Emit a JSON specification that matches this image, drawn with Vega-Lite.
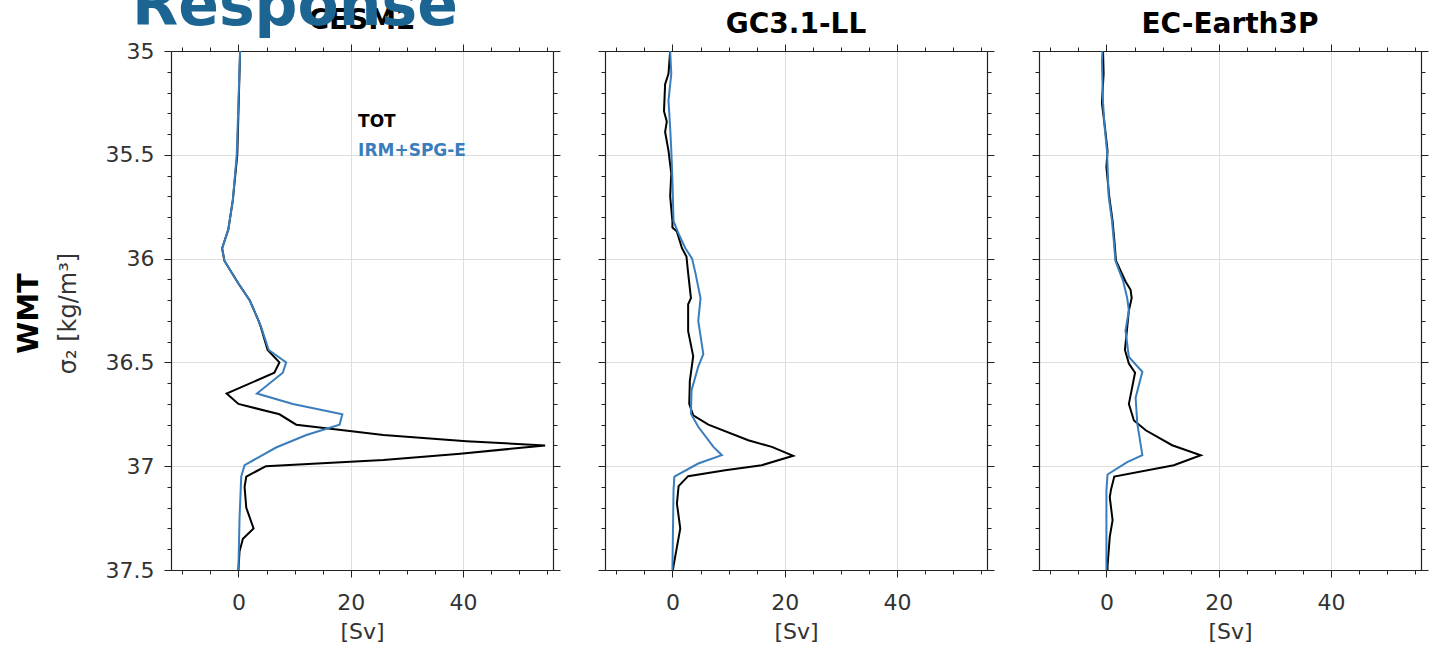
{
  "$schema": "https://vega.github.io/schema/vega-lite/v6.json",
  "autosize": {"type": "pad"},
  "padding": {"left": 14, "top": -23, "right": 0, "bottom": 0},
  "background": "white",
  "title": {"text": "Response", "anchor": "start", "frame": "group", "font": "DejaVu Sans", "fontSize": 60, "fontWeight": "bold", "color": "#1c6593", "baseline": "alphabetic", "offset": -61, "dx": -39, "dy": 17},
  "spacing": 52,
  "bounds": "flush",
  "datasets": {
    "wmt": [
      {"model": "CESM2", "series": "TOT", "sigma": 35.0, "v": 0.3},
      {"model": "CESM2", "series": "TOT", "sigma": 35.5, "v": -0.2},
      {"model": "CESM2", "series": "TOT", "sigma": 35.72, "v": -1.0},
      {"model": "CESM2", "series": "TOT", "sigma": 35.86, "v": -1.8},
      {"model": "CESM2", "series": "TOT", "sigma": 35.95, "v": -2.9},
      {"model": "CESM2", "series": "TOT", "sigma": 36.01, "v": -2.5},
      {"model": "CESM2", "series": "TOT", "sigma": 36.12, "v": 0.0},
      {"model": "CESM2", "series": "TOT", "sigma": 36.2, "v": 2.0},
      {"model": "CESM2", "series": "TOT", "sigma": 36.3, "v": 3.6},
      {"model": "CESM2", "series": "TOT", "sigma": 36.33, "v": 4.0},
      {"model": "CESM2", "series": "TOT", "sigma": 36.44, "v": 5.2},
      {"model": "CESM2", "series": "TOT", "sigma": 36.5, "v": 7.3},
      {"model": "CESM2", "series": "TOT", "sigma": 36.55, "v": 6.4},
      {"model": "CESM2", "series": "TOT", "sigma": 36.65, "v": -2.1},
      {"model": "CESM2", "series": "TOT", "sigma": 36.7, "v": 0.0},
      {"model": "CESM2", "series": "TOT", "sigma": 36.75, "v": 7.3},
      {"model": "CESM2", "series": "TOT", "sigma": 36.8, "v": 10.3},
      {"model": "CESM2", "series": "TOT", "sigma": 36.83, "v": 19.8},
      {"model": "CESM2", "series": "TOT", "sigma": 36.85, "v": 25.8},
      {"model": "CESM2", "series": "TOT", "sigma": 36.88, "v": 40.6},
      {"model": "CESM2", "series": "TOT", "sigma": 36.9, "v": 54.6},
      {"model": "CESM2", "series": "TOT", "sigma": 36.94, "v": 39.5},
      {"model": "CESM2", "series": "TOT", "sigma": 36.97, "v": 25.8},
      {"model": "CESM2", "series": "TOT", "sigma": 37.0, "v": 4.9},
      {"model": "CESM2", "series": "TOT", "sigma": 37.05, "v": 1.4},
      {"model": "CESM2", "series": "TOT", "sigma": 37.1, "v": 1.1},
      {"model": "CESM2", "series": "TOT", "sigma": 37.2, "v": 1.4},
      {"model": "CESM2", "series": "TOT", "sigma": 37.3, "v": 2.7},
      {"model": "CESM2", "series": "TOT", "sigma": 37.35, "v": 0.8},
      {"model": "CESM2", "series": "TOT", "sigma": 37.41, "v": 0.2},
      {"model": "CESM2", "series": "TOT", "sigma": 37.5, "v": 0.0},
      {"model": "CESM2", "series": "IRM", "sigma": 35.0, "v": 0.3},
      {"model": "CESM2", "series": "IRM", "sigma": 35.5, "v": -0.3},
      {"model": "CESM2", "series": "IRM", "sigma": 35.72, "v": -1.0},
      {"model": "CESM2", "series": "IRM", "sigma": 35.86, "v": -1.8},
      {"model": "CESM2", "series": "IRM", "sigma": 35.95, "v": -2.9},
      {"model": "CESM2", "series": "IRM", "sigma": 36.01, "v": -2.5},
      {"model": "CESM2", "series": "IRM", "sigma": 36.12, "v": 0.0},
      {"model": "CESM2", "series": "IRM", "sigma": 36.2, "v": 2.0},
      {"model": "CESM2", "series": "IRM", "sigma": 36.3, "v": 3.6},
      {"model": "CESM2", "series": "IRM", "sigma": 36.33, "v": 4.05},
      {"model": "CESM2", "series": "IRM", "sigma": 36.44, "v": 5.4},
      {"model": "CESM2", "series": "IRM", "sigma": 36.5, "v": 8.5},
      {"model": "CESM2", "series": "IRM", "sigma": 36.55, "v": 7.9},
      {"model": "CESM2", "series": "IRM", "sigma": 36.65, "v": 3.3},
      {"model": "CESM2", "series": "IRM", "sigma": 36.7, "v": 9.7},
      {"model": "CESM2", "series": "IRM", "sigma": 36.75, "v": 18.5},
      {"model": "CESM2", "series": "IRM", "sigma": 36.8, "v": 18.0},
      {"model": "CESM2", "series": "IRM", "sigma": 36.85, "v": 12.1},
      {"model": "CESM2", "series": "IRM", "sigma": 36.91, "v": 6.7},
      {"model": "CESM2", "series": "IRM", "sigma": 36.995, "v": 1.1},
      {"model": "CESM2", "series": "IRM", "sigma": 37.05, "v": 0.5},
      {"model": "CESM2", "series": "IRM", "sigma": 37.25, "v": 0.2},
      {"model": "CESM2", "series": "IRM", "sigma": 37.5, "v": 0.0},
      {"model": "GC3.1-LL", "series": "TOT", "sigma": 35.0, "v": -0.4},
      {"model": "GC3.1-LL", "series": "TOT", "sigma": 35.11, "v": -0.7},
      {"model": "GC3.1-LL", "series": "TOT", "sigma": 35.16, "v": -1.3},
      {"model": "GC3.1-LL", "series": "TOT", "sigma": 35.29, "v": -1.5},
      {"model": "GC3.1-LL", "series": "TOT", "sigma": 35.34, "v": -1.0},
      {"model": "GC3.1-LL", "series": "TOT", "sigma": 35.39, "v": -1.3},
      {"model": "GC3.1-LL", "series": "TOT", "sigma": 35.48, "v": -0.7},
      {"model": "GC3.1-LL", "series": "TOT", "sigma": 35.59, "v": -0.2},
      {"model": "GC3.1-LL", "series": "TOT", "sigma": 35.7, "v": -0.4},
      {"model": "GC3.1-LL", "series": "TOT", "sigma": 35.82, "v": 0.0},
      {"model": "GC3.1-LL", "series": "TOT", "sigma": 35.85, "v": 0.0},
      {"model": "GC3.1-LL", "series": "TOT", "sigma": 35.87, "v": 0.8},
      {"model": "GC3.1-LL", "series": "TOT", "sigma": 35.95, "v": 1.7},
      {"model": "GC3.1-LL", "series": "TOT", "sigma": 35.99, "v": 2.5},
      {"model": "GC3.1-LL", "series": "TOT", "sigma": 36.07, "v": 2.8},
      {"model": "GC3.1-LL", "series": "TOT", "sigma": 36.19, "v": 3.3},
      {"model": "GC3.1-LL", "series": "TOT", "sigma": 36.22, "v": 2.8},
      {"model": "GC3.1-LL", "series": "TOT", "sigma": 36.35, "v": 2.8},
      {"model": "GC3.1-LL", "series": "TOT", "sigma": 36.47, "v": 3.7},
      {"model": "GC3.1-LL", "series": "TOT", "sigma": 36.59, "v": 3.1},
      {"model": "GC3.1-LL", "series": "TOT", "sigma": 36.7, "v": 3.0},
      {"model": "GC3.1-LL", "series": "TOT", "sigma": 36.755, "v": 3.7},
      {"model": "GC3.1-LL", "series": "TOT", "sigma": 36.8, "v": 6.4},
      {"model": "GC3.1-LL", "series": "TOT", "sigma": 36.875, "v": 13.5},
      {"model": "GC3.1-LL", "series": "TOT", "sigma": 36.907, "v": 17.7},
      {"model": "GC3.1-LL", "series": "TOT", "sigma": 36.95, "v": 21.5},
      {"model": "GC3.1-LL", "series": "TOT", "sigma": 36.995, "v": 15.9},
      {"model": "GC3.1-LL", "series": "TOT", "sigma": 37.02, "v": 9.4},
      {"model": "GC3.1-LL", "series": "TOT", "sigma": 37.048, "v": 2.8},
      {"model": "GC3.1-LL", "series": "TOT", "sigma": 37.096, "v": 1.1},
      {"model": "GC3.1-LL", "series": "TOT", "sigma": 37.18, "v": 0.8},
      {"model": "GC3.1-LL", "series": "TOT", "sigma": 37.3, "v": 1.4},
      {"model": "GC3.1-LL", "series": "TOT", "sigma": 37.39, "v": 0.8},
      {"model": "GC3.1-LL", "series": "TOT", "sigma": 37.48, "v": 0.2},
      {"model": "GC3.1-LL", "series": "TOT", "sigma": 37.5, "v": 0.1},
      {"model": "GC3.1-LL", "series": "IRM", "sigma": 35.0, "v": -0.4},
      {"model": "GC3.1-LL", "series": "IRM", "sigma": 35.11, "v": -0.2},
      {"model": "GC3.1-LL", "series": "IRM", "sigma": 35.24, "v": -0.7},
      {"model": "GC3.1-LL", "series": "IRM", "sigma": 35.37, "v": -0.4},
      {"model": "GC3.1-LL", "series": "IRM", "sigma": 35.48, "v": -0.2},
      {"model": "GC3.1-LL", "series": "IRM", "sigma": 35.62, "v": 0.0},
      {"model": "GC3.1-LL", "series": "IRM", "sigma": 35.82, "v": 0.2},
      {"model": "GC3.1-LL", "series": "IRM", "sigma": 35.88, "v": 1.1},
      {"model": "GC3.1-LL", "series": "IRM", "sigma": 35.95, "v": 2.3},
      {"model": "GC3.1-LL", "series": "IRM", "sigma": 36.0, "v": 3.5},
      {"model": "GC3.1-LL", "series": "IRM", "sigma": 36.07, "v": 4.1},
      {"model": "GC3.1-LL", "series": "IRM", "sigma": 36.19, "v": 5.0},
      {"model": "GC3.1-LL", "series": "IRM", "sigma": 36.22, "v": 4.9},
      {"model": "GC3.1-LL", "series": "IRM", "sigma": 36.3, "v": 4.6},
      {"model": "GC3.1-LL", "series": "IRM", "sigma": 36.46, "v": 5.5},
      {"model": "GC3.1-LL", "series": "IRM", "sigma": 36.52, "v": 4.6},
      {"model": "GC3.1-LL", "series": "IRM", "sigma": 36.635, "v": 3.4},
      {"model": "GC3.1-LL", "series": "IRM", "sigma": 36.747, "v": 3.3},
      {"model": "GC3.1-LL", "series": "IRM", "sigma": 36.81, "v": 4.6},
      {"model": "GC3.1-LL", "series": "IRM", "sigma": 36.907, "v": 7.3},
      {"model": "GC3.1-LL", "series": "IRM", "sigma": 36.947, "v": 8.8},
      {"model": "GC3.1-LL", "series": "IRM", "sigma": 36.987, "v": 4.6},
      {"model": "GC3.1-LL", "series": "IRM", "sigma": 37.05, "v": 0.35},
      {"model": "GC3.1-LL", "series": "IRM", "sigma": 37.115, "v": 0.2},
      {"model": "GC3.1-LL", "series": "IRM", "sigma": 37.5, "v": 0.0},
      {"model": "EC-Earth3P", "series": "TOT", "sigma": 35.0, "v": -0.6},
      {"model": "EC-Earth3P", "series": "TOT", "sigma": 35.11, "v": -0.5},
      {"model": "EC-Earth3P", "series": "TOT", "sigma": 35.25, "v": -0.8},
      {"model": "EC-Earth3P", "series": "TOT", "sigma": 35.37, "v": -0.25},
      {"model": "EC-Earth3P", "series": "TOT", "sigma": 35.48, "v": 0.2},
      {"model": "EC-Earth3P", "series": "TOT", "sigma": 35.56, "v": 0.0},
      {"model": "EC-Earth3P", "series": "TOT", "sigma": 35.7, "v": 0.5},
      {"model": "EC-Earth3P", "series": "TOT", "sigma": 35.82, "v": 1.1},
      {"model": "EC-Earth3P", "series": "TOT", "sigma": 35.91, "v": 1.4},
      {"model": "EC-Earth3P", "series": "TOT", "sigma": 36.01, "v": 1.7},
      {"model": "EC-Earth3P", "series": "TOT", "sigma": 36.11, "v": 3.4},
      {"model": "EC-Earth3P", "series": "TOT", "sigma": 36.15, "v": 4.3},
      {"model": "EC-Earth3P", "series": "TOT", "sigma": 36.19, "v": 4.5},
      {"model": "EC-Earth3P", "series": "TOT", "sigma": 36.25, "v": 4.0},
      {"model": "EC-Earth3P", "series": "TOT", "sigma": 36.44, "v": 3.3},
      {"model": "EC-Earth3P", "series": "TOT", "sigma": 36.506, "v": 4.0},
      {"model": "EC-Earth3P", "series": "TOT", "sigma": 36.55, "v": 5.1},
      {"model": "EC-Earth3P", "series": "TOT", "sigma": 36.7, "v": 4.0},
      {"model": "EC-Earth3P", "series": "TOT", "sigma": 36.78, "v": 4.9},
      {"model": "EC-Earth3P", "series": "TOT", "sigma": 36.827, "v": 7.0},
      {"model": "EC-Earth3P", "series": "TOT", "sigma": 36.899, "v": 11.7},
      {"model": "EC-Earth3P", "series": "TOT", "sigma": 36.947, "v": 16.8},
      {"model": "EC-Earth3P", "series": "TOT", "sigma": 36.995, "v": 12.0},
      {"model": "EC-Earth3P", "series": "TOT", "sigma": 37.05, "v": 1.4},
      {"model": "EC-Earth3P", "series": "TOT", "sigma": 37.115, "v": 0.8},
      {"model": "EC-Earth3P", "series": "TOT", "sigma": 37.15, "v": 0.6},
      {"model": "EC-Earth3P", "series": "TOT", "sigma": 37.26, "v": 1.1},
      {"model": "EC-Earth3P", "series": "TOT", "sigma": 37.34, "v": 0.6},
      {"model": "EC-Earth3P", "series": "TOT", "sigma": 37.48, "v": 0.2},
      {"model": "EC-Earth3P", "series": "TOT", "sigma": 37.5, "v": 0.2},
      {"model": "EC-Earth3P", "series": "IRM", "sigma": 35.0, "v": -0.7},
      {"model": "EC-Earth3P", "series": "IRM", "sigma": 35.05, "v": -0.8},
      {"model": "EC-Earth3P", "series": "IRM", "sigma": 35.25, "v": -0.6},
      {"model": "EC-Earth3P", "series": "IRM", "sigma": 35.37, "v": -0.3},
      {"model": "EC-Earth3P", "series": "IRM", "sigma": 35.48, "v": 0.1},
      {"model": "EC-Earth3P", "series": "IRM", "sigma": 35.7, "v": 0.4},
      {"model": "EC-Earth3P", "series": "IRM", "sigma": 35.82, "v": 1.0},
      {"model": "EC-Earth3P", "series": "IRM", "sigma": 35.91, "v": 1.3},
      {"model": "EC-Earth3P", "series": "IRM", "sigma": 36.01, "v": 1.6},
      {"model": "EC-Earth3P", "series": "IRM", "sigma": 36.11, "v": 3.0},
      {"model": "EC-Earth3P", "series": "IRM", "sigma": 36.19, "v": 3.7},
      {"model": "EC-Earth3P", "series": "IRM", "sigma": 36.25, "v": 4.0},
      {"model": "EC-Earth3P", "series": "IRM", "sigma": 36.346, "v": 3.4},
      {"model": "EC-Earth3P", "series": "IRM", "sigma": 36.474, "v": 4.0},
      {"model": "EC-Earth3P", "series": "IRM", "sigma": 36.545, "v": 6.4},
      {"model": "EC-Earth3P", "series": "IRM", "sigma": 36.67, "v": 5.2},
      {"model": "EC-Earth3P", "series": "IRM", "sigma": 36.795, "v": 5.5},
      {"model": "EC-Earth3P", "series": "IRM", "sigma": 36.947, "v": 6.4},
      {"model": "EC-Earth3P", "series": "IRM", "sigma": 36.98, "v": 3.7},
      {"model": "EC-Earth3P", "series": "IRM", "sigma": 37.04, "v": 0.2},
      {"model": "EC-Earth3P", "series": "IRM", "sigma": 37.115, "v": 0.0},
      {"model": "EC-Earth3P", "series": "IRM", "sigma": 37.5, "v": 0.0}
    ]
  },
  "hconcat": [
    {
      "width": 382, "height": 519,
      "title": {"text": "CESM2", "font": "DejaVu Sans", "fontSize": 28, "fontWeight": "bold", "color": "#000", "offset": 5},
      "layer": [
        {"mark": {"type": "rule", "color": "#444", "strokeWidth": 1.2},
         "encoding": {"x": {"datum": 0, "type": "quantitative", "scale": {"domain": [-12, 56], "nice": false, "zero": false}, "axis": null}}},
        {"data": {"name": "wmt"},
         "transform": [{"filter": "datum.model === 'CESM2' && datum.series === 'TOT'"}],
         "mark": {"type": "line", "color": "#000", "strokeWidth": 2},
         "encoding": {
           "x": {"field": "v", "type": "quantitative", "scale": {"domain": [-12, 56], "nice": false, "zero": false},
             "axis": {"orient": "bottom", "values": [-10,-5,0,5,10,15,20,25,30,35,40,45,50,55], "labelExpr": "datum.value % 20 === 0 ? format(datum.value, 'd') : ''", "labelPadding": 15, "tickSize": {"condition": {"test": "datum.value % 20 === 0", "value": 7}, "value": 4}, "grid": true, "gridOpacity": {"condition": {"test": "datum.value === 20 || datum.value === 40", "value": 1}, "value": 0}, "title": "[Sv]", "titlePadding": 8}},
           "y": {"field": "sigma", "type": "quantitative", "scale": {"domain": [35, 37.5], "reverse": true, "nice": false, "zero": false},
             "axis": {"orient": "left", "values": [35,35.1,35.2,35.3,35.4,35.5,35.6,35.7,35.8,35.9,36,36.1,36.2,36.3,36.4,36.5,36.6,36.7,36.8,36.9,37,37.1,37.2,37.3,37.4,37.5], "labelExpr": "abs(datum.value*2 - round(datum.value*2)) < 0.001 ? format(datum.value, '~g') : ''", "labelPadding": 10, "tickSize": {"condition": {"test": "abs(datum.value*2 - round(datum.value*2)) < 0.001", "value": 7}, "value": 4}, "grid": true, "gridOpacity": {"condition": {"test": "abs(datum.value*2 - round(datum.value*2)) < 0.001 && datum.value > 35.01 && datum.value < 37.49", "value": 1}, "value": 0}, "title": "σ₂ [kg/m³]", "titleFontSize": 24, "titleX": -103, "titleY": 262, "titleAngle": -90, "titleAlign": "center", "titleBaseline": "middle"}},
           "order": {"field": "sigma", "type": "quantitative"}
         }},
        {"data": {"name": "wmt"},
         "transform": [{"filter": "datum.model === 'CESM2' && datum.series === 'IRM'"}],
         "mark": {"type": "line", "color": "#3a7dbd", "strokeWidth": 2},
         "encoding": {
           "x": {"field": "v", "type": "quantitative",
             "axis": {"orient": "top", "values": [-10,-5,0,5,10,15,20,25,30,35,40,45,50,55], "labels": false, "grid": false, "title": null, "tickSize": {"condition": {"test": "datum.value % 20 === 0", "value": 7}, "value": 4}}},
           "y": {"field": "sigma", "type": "quantitative",
             "axis": {"orient": "right", "values": [35,35.1,35.2,35.3,35.4,35.5,35.6,35.7,35.8,35.9,36,36.1,36.2,36.3,36.4,36.5,36.6,36.7,36.8,36.9,37,37.1,37.2,37.3,37.4,37.5], "labels": false, "grid": false, "title": null, "tickSize": {"condition": {"test": "abs(datum.value*2 - round(datum.value*2)) < 0.001", "value": 7}, "value": 4}}},
           "order": {"field": "sigma", "type": "quantitative"}
         }},
        {"data": {"values": [{}]},
         "mark": {"type": "text", "text": "TOT", "font": "DejaVu Sans", "fontWeight": "bold", "fontSize": 17, "color": "#000", "align": "left", "baseline": "middle"},
         "encoding": {
           "x": {"datum": 21.3, "type": "quantitative", "axis": null},
           "y": {"datum": 35.34, "type": "quantitative",
             "axis": {"orient": "left", "domain": false, "ticks": false, "labels": false, "grid": false, "title": "WMT", "titleFont": "DejaVu Sans", "titleFontSize": 29, "titleFontWeight": "bold", "titleColor": "#000", "titleX": -143, "titleY": 262, "titleAngle": -90, "titleAlign": "center", "titleBaseline": "middle"}}
         }},
        {"data": {"values": [{}]},
         "mark": {"type": "text", "text": "IRM+SPG-E", "font": "DejaVu Sans", "fontWeight": "bold", "fontSize": 17, "color": "#3a7dbd", "align": "left", "baseline": "middle"},
         "encoding": {
           "x": {"datum": 21.3, "type": "quantitative", "axis": null},
           "y": {"datum": 35.48, "type": "quantitative", "axis": null}
         }}
      ],
      "resolve": {"axis": {"x": "independent", "y": "independent"}}
    },
    {
      "width": 382, "height": 519,
      "title": {"text": "GC3.1-LL", "font": "DejaVu Sans", "fontSize": 28, "fontWeight": "bold", "color": "#000", "offset": 5},
      "layer": [
        {"mark": {"type": "rule", "color": "#444", "strokeWidth": 1.2},
         "encoding": {"x": {"datum": 0, "type": "quantitative", "scale": {"domain": [-12, 56], "nice": false, "zero": false}, "axis": null}}},
        {"data": {"name": "wmt"},
         "transform": [{"filter": "datum.model === 'GC3.1-LL' && datum.series === 'TOT'"}],
         "mark": {"type": "line", "color": "#000", "strokeWidth": 2},
         "encoding": {
           "x": {"field": "v", "type": "quantitative", "scale": {"domain": [-12, 56], "nice": false, "zero": false},
             "axis": {"orient": "bottom", "values": [-10,-5,0,5,10,15,20,25,30,35,40,45,50,55], "labelExpr": "datum.value % 20 === 0 ? format(datum.value, 'd') : ''", "labelPadding": 15, "tickSize": {"condition": {"test": "datum.value % 20 === 0", "value": 7}, "value": 4}, "grid": true, "gridOpacity": {"condition": {"test": "datum.value === 20 || datum.value === 40", "value": 1}, "value": 0}, "title": "[Sv]", "titlePadding": 8}},
           "y": {"field": "sigma", "type": "quantitative", "scale": {"domain": [35, 37.5], "reverse": true, "nice": false, "zero": false},
             "axis": {"orient": "left", "values": [35,35.1,35.2,35.3,35.4,35.5,35.6,35.7,35.8,35.9,36,36.1,36.2,36.3,36.4,36.5,36.6,36.7,36.8,36.9,37,37.1,37.2,37.3,37.4,37.5], "labels": false, "title": null, "tickSize": {"condition": {"test": "abs(datum.value*2 - round(datum.value*2)) < 0.001", "value": 7}, "value": 4}, "grid": true, "gridOpacity": {"condition": {"test": "abs(datum.value*2 - round(datum.value*2)) < 0.001 && datum.value > 35.01 && datum.value < 37.49", "value": 1}, "value": 0}}},
           "order": {"field": "sigma", "type": "quantitative"}
         }},
        {"data": {"name": "wmt"},
         "transform": [{"filter": "datum.model === 'GC3.1-LL' && datum.series === 'IRM'"}],
         "mark": {"type": "line", "color": "#3a7dbd", "strokeWidth": 2},
         "encoding": {
           "x": {"field": "v", "type": "quantitative",
             "axis": {"orient": "top", "values": [-10,-5,0,5,10,15,20,25,30,35,40,45,50,55], "labels": false, "grid": false, "title": null, "tickSize": {"condition": {"test": "datum.value % 20 === 0", "value": 7}, "value": 4}}},
           "y": {"field": "sigma", "type": "quantitative",
             "axis": {"orient": "right", "values": [35,35.1,35.2,35.3,35.4,35.5,35.6,35.7,35.8,35.9,36,36.1,36.2,36.3,36.4,36.5,36.6,36.7,36.8,36.9,37,37.1,37.2,37.3,37.4,37.5], "labels": false, "grid": false, "title": null, "tickSize": {"condition": {"test": "abs(datum.value*2 - round(datum.value*2)) < 0.001", "value": 7}, "value": 4}}},
           "order": {"field": "sigma", "type": "quantitative"}
         }}
      ],
      "resolve": {"axis": {"x": "independent", "y": "independent"}}
    },
    {
      "width": 382, "height": 519,
      "title": {"text": "EC-Earth3P", "font": "DejaVu Sans", "fontSize": 28, "fontWeight": "bold", "color": "#000", "offset": 5},
      "layer": [
        {"mark": {"type": "rule", "color": "#444", "strokeWidth": 1.2},
         "encoding": {"x": {"datum": 0, "type": "quantitative", "scale": {"domain": [-12, 56], "nice": false, "zero": false}, "axis": null}}},
        {"data": {"name": "wmt"},
         "transform": [{"filter": "datum.model === 'EC-Earth3P' && datum.series === 'TOT'"}],
         "mark": {"type": "line", "color": "#000", "strokeWidth": 2},
         "encoding": {
           "x": {"field": "v", "type": "quantitative", "scale": {"domain": [-12, 56], "nice": false, "zero": false},
             "axis": {"orient": "bottom", "values": [-10,-5,0,5,10,15,20,25,30,35,40,45,50,55], "labelExpr": "datum.value % 20 === 0 ? format(datum.value, 'd') : ''", "labelPadding": 15, "tickSize": {"condition": {"test": "datum.value % 20 === 0", "value": 7}, "value": 4}, "grid": true, "gridOpacity": {"condition": {"test": "datum.value === 20 || datum.value === 40", "value": 1}, "value": 0}, "title": "[Sv]", "titlePadding": 8}},
           "y": {"field": "sigma", "type": "quantitative", "scale": {"domain": [35, 37.5], "reverse": true, "nice": false, "zero": false},
             "axis": {"orient": "left", "values": [35,35.1,35.2,35.3,35.4,35.5,35.6,35.7,35.8,35.9,36,36.1,36.2,36.3,36.4,36.5,36.6,36.7,36.8,36.9,37,37.1,37.2,37.3,37.4,37.5], "labels": false, "title": null, "tickSize": {"condition": {"test": "abs(datum.value*2 - round(datum.value*2)) < 0.001", "value": 7}, "value": 4}, "grid": true, "gridOpacity": {"condition": {"test": "abs(datum.value*2 - round(datum.value*2)) < 0.001 && datum.value > 35.01 && datum.value < 37.49", "value": 1}, "value": 0}}},
           "order": {"field": "sigma", "type": "quantitative"}
         }},
        {"data": {"name": "wmt"},
         "transform": [{"filter": "datum.model === 'EC-Earth3P' && datum.series === 'IRM'"}],
         "mark": {"type": "line", "color": "#3a7dbd", "strokeWidth": 2},
         "encoding": {
           "x": {"field": "v", "type": "quantitative",
             "axis": {"orient": "top", "values": [-10,-5,0,5,10,15,20,25,30,35,40,45,50,55], "labels": false, "grid": false, "title": null, "tickSize": {"condition": {"test": "datum.value % 20 === 0", "value": 7}, "value": 4}}},
           "y": {"field": "sigma", "type": "quantitative",
             "axis": {"orient": "right", "values": [35,35.1,35.2,35.3,35.4,35.5,35.6,35.7,35.8,35.9,36,36.1,36.2,36.3,36.4,36.5,36.6,36.7,36.8,36.9,37,37.1,37.2,37.3,37.4,37.5], "labels": false, "grid": false, "title": null, "tickSize": {"condition": {"test": "abs(datum.value*2 - round(datum.value*2)) < 0.001", "value": 7}, "value": 4}}},
           "order": {"field": "sigma", "type": "quantitative"}
         }}
      ],
      "resolve": {"axis": {"x": "independent", "y": "independent"}}
    }
  ],
  "config": {
    "view": {"stroke": null},
    "axis": {
      "labelFont": "DejaVu Sans", "labelFontSize": 22, "labelColor": "#333",
      "labelOverlap": false, "labelFlush": false, "labelBound": false,
      "tickColor": "#222", "tickWidth": 1,
      "domainColor": "#222", "domainWidth": 1.2,
      "gridColor": "#dedede", "gridWidth": 1,
      "titleFont": "DejaVu Sans", "titleFontSize": 22, "titleFontWeight": "normal", "titleColor": "#333"
    }
  }
}
